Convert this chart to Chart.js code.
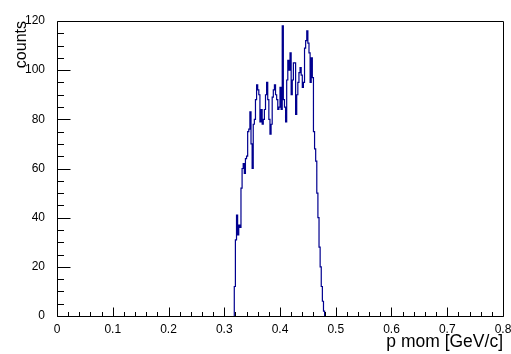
<!DOCTYPE html>
<html>
<head>
<meta charset="utf-8">
<script src="https://cdn.jsdelivr.net/npm/chart.js@4/dist/chart.umd.min.js"></script>
<style>
  html, body { margin: 0; padding: 0; background: #fff; }
  canvas { display: block; }
</style>
</head>
<body>
<canvas id="histo" width="511" height="354"></canvas>
<script>
// histograma p mom, bins de 0.002 GeV/c empezando en 0.318
const binStart = 0.318;
const binWidth = 0.002;
const counts = [
  12, 31, 41, 33, 37, 36, 52, 60, 62, 58,
  64, 65, 75, 76, 83, 70, 60, 78, 80, 88,
  94, 92, 90, 79, 84, 78, 80, 84, 90, 95,
  88, 80, 74, 78, 89, 92, 94, 90, 88, 84,
  85, 93, 84, 118, 88, 85, 79, 96, 104, 100,
  107, 90, 96, 103, 103, 82, 90, 95, 99, 101,
  98, 93, 95, 109, 112, 116, 111, 107, 95, 105,
  97, 75, 68, 63, 50, 40, 28, 20, 12, 6, 2
];

// ejes
const xTickLabels = ["0", "0.1", "0.2", "0.3", "0.4", "0.5", "0.6", "0.7", "0.8"];
const yTickLabels = ["0", "20", "40", "60", "80", "100", "120"];
const xTitle = "p mom [GeV/c]";
const yTitle = "counts";

// puntos escalonados: borde izquierdo de cada bin + cierre a cero
const points = [{ x: binStart, y: 0 }];
counts.forEach((c, i) => points.push({ x: binStart + i * binWidth, y: c }));
points.push({ x: binStart + counts.length * binWidth, y: 0 });

// marco y ticks hacia dentro, estilo ROOT
const frameTicks = {
  id: "frameTicks",
  afterDraw(chart) {
    const { ctx, chartArea: a, scales } = chart;
    const xs = scales.x, ys = scales.y;
    ctx.save();
    ctx.strokeStyle = "#000";
    ctx.lineWidth = 1;
    ctx.beginPath();
    ctx.rect(Math.round(a.left) + 0.5, Math.round(a.top) + 0.5,
             Math.round(a.right - a.left), Math.round(a.bottom - a.top));
    ctx.stroke();

    ctx.beginPath();
    const yb = Math.round(a.bottom) + 0.5;
    for (let k = 0; k <= 40; k++) {
      const px = Math.round(xs.getPixelForValue(k * 0.02)) + 0.5;
      const len = k % 5 === 0 ? 9 : 4.5;
      ctx.moveTo(px, yb);
      ctx.lineTo(px, yb - len);
    }
    const xl = Math.round(a.left) + 0.5;
    for (let k = 0; k <= 24; k++) {
      const py = Math.round(ys.getPixelForValue(k * 5)) + 0.5;
      const len = k % 4 === 0 ? 13 : 6.5;
      ctx.moveTo(xl, py);
      ctx.lineTo(xl + len, py);
    }
    ctx.stroke();
    ctx.restore();
  }
};

Chart.defaults.font.family = "'Liberation Sans', Arial, Helvetica, sans-serif";
Chart.defaults.color = "#000";

new Chart(document.getElementById("histo").getContext("2d"), {
  type: "line",
  data: {
    datasets: [{
      data: points,
      stepped: true,
      borderColor: "#00008f",
      borderWidth: 1.2,
      pointRadius: 0,
      fill: false
    }]
  },
  options: {
    responsive: false,
    animation: false,
    layout: { padding: { top: 21, right: 8, left: 0, bottom: 0 } },
    plugins: { legend: { display: false }, tooltip: { enabled: false } },
    scales: {
      x: {
        type: "linear",
        min: 0,
        max: 0.8,
        grid: { display: false },
        border: { display: false },
        ticks: {
          stepSize: 0.1,
          padding: -2,
          maxRotation: 0,
          font: { size: 12 },
          callback: (v, i) => xTickLabels[i]
        },
        title: {
          display: true,
          text: xTitle,
          align: "end",
          font: { size: 17.5 },
          padding: { top: 0, bottom: 1 }
        },
        afterFit(s) {
          s.height = 38;
          s.paddingLeft = 0;
          s.paddingRight = 0;
        }
      },
      y: {
        type: "linear",
        min: 0,
        max: 120,
        grid: { display: false },
        border: { display: false },
        ticks: {
          stepSize: 20,
          padding: 4,
          font: { size: 12 },
          callback: (v, i) => yTickLabels[i]
        },
        title: {
          display: true,
          text: yTitle,
          align: "end",
          font: { size: 16 },
          padding: { top: 12, bottom: 0 }
        },
        afterFit(s) {
          s.width = 57;
          s.paddingTop = 0;
          s.paddingBottom = 0;
        }
      }
    }
  },
  plugins: [frameTicks]
});
</script>
</body>
</html>
